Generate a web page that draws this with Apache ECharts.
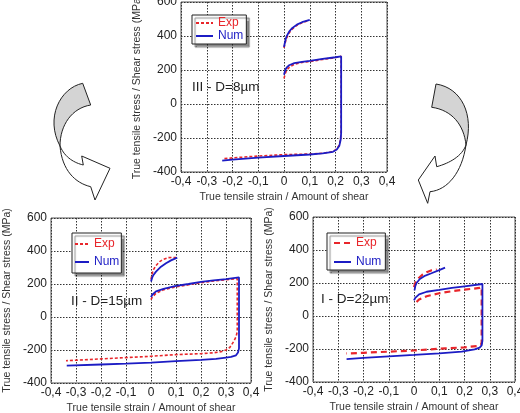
<!DOCTYPE html>
<html><head><meta charset="utf-8">
<script src="https://cdn.jsdelivr.net/npm/echarts@6/dist/echarts.min.js"></script>
<style>html,body{margin:0;padding:0;background:#fff}#c{width:520px;height:413px}</style>
</head><body><div id="c"></div><script>
// ---- data (strain, stress MPa) ----
const exp8Tension = [[0,330],[0.005,362],[0.01,388],[0.02,418],[0.03,438],[0.05,463],[0.07,478],[0.095,490]];
const num8Tension = [[0,335],[0.005,372],[0.01,398],[0.02,426],[0.03,444],[0.05,467],[0.07,481],[0.1,495]];
const exp8Shear = [[0,150],[0.005,180],[0.01,198],[0.02,215],[0.04,234],[0.07,244],[0.1,250],[0.15,262],[0.2,273],[0.222,280],[0.222,-150],[0.22,-200],[0.215,-240],[0.205,-265],[0.19,-280],[0.15,-290],[0.1,-294],[0,-298],[-0.1,-306],[-0.2,-317],[-0.235,-322]];
const num8Shear = [[0,172],[0.005,200],[0.01,214],[0.02,228],[0.04,240],[0.07,248],[0.1,254],[0.15,265],[0.2,275],[0.222,280],[0.222,-170],[0.22,-210],[0.215,-245],[0.205,-268],[0.19,-281],[0.15,-291],[0.1,-297],[0,-306],[-0.1,-316],[-0.2,-327],[-0.24,-333]];

const exp15Tension = [[0,228],[0.005,265],[0.01,287],[0.02,312],[0.035,336],[0.05,350],[0.07,360],[0.1,361]];
const num15Tension = [[0,215],[0.005,240],[0.01,255],[0.02,275],[0.04,305],[0.06,326],[0.08,343],[0.105,360]];
const exp15Shear = [[0,105],[0.005,120],[0.01,132],[0.02,144],[0.05,165],[0.1,183],[0.15,195],[0.2,208],[0.25,218],[0.3,226],[0.345,232],[0.345,-90],[0.34,-120],[0.33,-150],[0.315,-185],[0.3,-200],[0.28,-210],[0.25,-217],[0.2,-222],[0.1,-228],[0,-238],[-0.1,-246],[-0.2,-254],[-0.34,-265]];
const num15Shear = [[0,120],[0.005,135],[0.01,145],[0.02,155],[0.05,170],[0.1,188],[0.15,200],[0.2,213],[0.25,222],[0.3,230],[0.352,240],[0.352,-190],[0.348,-215],[0.34,-232],[0.32,-242],[0.3,-246],[0.26,-254],[0.2,-260],[0.1,-268],[0,-277],[-0.1,-283],[-0.2,-288],[-0.337,-295]];

const exp22Tension = [[0,175],[0.005,200],[0.01,215],[0.02,232],[0.035,252],[0.05,265],[0.07,277],[0.09,282]];
const num22Tension = [[0.002,155],[0.005,180],[0.01,200],[0.023,224],[0.045,245],[0.069,259],[0.1,278],[0.123,293]];
const exp22Shear = [[0.01,85],[0.02,100],[0.05,120],[0.1,138],[0.15,150],[0.2,160],[0.26,170],[0.268,175],[0.268,-160],[0.265,-175],[0.25,-182],[0.2,-190],[0.123,-196],[0,-209],[-0.1,-216],[-0.2,-223],[-0.268,-227]];
const num22Shear = [[0,95],[0.005,110],[0.02,131],[0.05,147],[0.1,158],[0.15,170],[0.2,180],[0.271,194],[0.271,-150],[0.268,-178],[0.26,-192],[0.24,-202],[0.189,-216],[0.1,-226],[0,-236],[-0.1,-245],[-0.2,-254],[-0.267,-261]];

const xTicks = [-0.4,-0.3,-0.2,-0.1,0,0.1,0.2,0.3,0.4];
const yTicks = [-400,-200,0,200,400,600];
const panelLabels = ['III - D=8\u00b5m','II - D=15\u00b5m','I - D=22\u00b5m'];
const xTitle = 'True tensile strain / Amount of shear';
const yTitle = 'True tensile stress / Shear stress (MPa)';

// ---- styling ----
const RED = '#e8262b', BLUE = '#1c1cc4', FONT = 'Liberation Sans, Arial, sans-serif';
const grids = [
  {left:181, top:2, width:206, height:170},
  {left:51, top:218, width:200, height:165},
  {left:313, top:217, width:202, height:165}
];
const fmtX = v => { const r = Math.round(v*10)/10; return r === 0 ? '0' : r.toFixed(1).replace('.', ','); };

const xAxes = grids.map((g,i)=>({
  type:'value', gridIndex:i, min:xTicks[0], max:xTicks[xTicks.length-1], interval:0.1,
  name:xTitle, nameLocation:'middle', nameGap:20,
  nameTextStyle:{fontSize:10.5, color:'#333', fontFamily:FONT},
  axisLine:{show:false}, axisTick:{show:false},
  axisLabel:{formatter:fmtX, fontSize:12, color:'#222', fontFamily:FONT, margin:4, showMinLabel:true, showMaxLabel:true, hideOverlap:false},
  splitLine:{show:true, lineStyle:{type:[1.5,1.5], color:'#333', width:1}}
}));
const yAxes = grids.map((g,i)=>({
  type:'value', gridIndex:i, min:yTicks[0], max:yTicks[yTicks.length-1], interval:200,
  name:yTitle, nameLocation:'middle', nameGap:38,
  nameTextStyle:{fontSize:10.5, color:'#333', fontFamily:FONT},
  axisLine:{show:false}, axisTick:{show:false},
  axisLabel:{fontSize:12, color:'#222', fontFamily:FONT, margin:4, showMinLabel:true, showMaxLabel:true},
  splitLine:{show:true, lineStyle:{type:[1.5,1.5], color:'#333', width:1}}
}));

function mk(gi, name, color, dash, width, data, z){
  return {type:'line', name, xAxisIndex:gi, yAxisIndex:gi, data, symbol:'none', smooth:false,
    lineStyle:{color, width, type:dash}, itemStyle:{color}, z, animation:false};
}
const series = [
  mk(0,'Exp8',RED,[3,2],1.6,exp8Tension,2), mk(0,'Exp8',RED,[3,2],1.6,exp8Shear,2),
  mk(0,'Num8',BLUE,'solid',1.8,num8Tension,3), mk(0,'Num8',BLUE,'solid',1.8,num8Shear,3),
  mk(1,'Exp15',RED,[3,2],1.6,exp15Tension,2), mk(1,'Exp15',RED,[3,2],1.6,exp15Shear,2),
  mk(1,'Num15',BLUE,'solid',1.8,num15Tension,3), mk(1,'Num15',BLUE,'solid',1.8,num15Shear,3),
  mk(2,'Exp22',RED,[6,4],2.2,exp22Tension,2), mk(2,'Exp22',RED,[6,4],2.2,exp22Shear,2),
  mk(2,'Num22',BLUE,'solid',1.8,num22Tension,3), mk(2,'Num22',BLUE,'solid',1.8,num22Shear,3)
];

function legend(suffix, left, top, pad, itemWidth, gap){
  return {
    data:[{name:'Exp'+suffix, textStyle:{color:RED}}, {name:'Num'+suffix, textStyle:{color:BLUE}}],
    formatter: n => n.replace(/\d+$/, ''),
    orient:'vertical', left, top, padding:pad, itemGap:gap, itemWidth, itemHeight:12,
    itemStyle:{opacity:0},
    textStyle:{fontSize:12, fontFamily:FONT}, backgroundColor:'#fff', borderColor:'#222', borderWidth:1,
    shadowColor:'rgba(0,0,0,0.45)', shadowBlur:1, shadowOffsetX:3, shadowOffsetY:3,
    selectedMode:false
  };
}

// decorative curved arrows (sampled bezier outlines)
function bez(p0,p1,p2,p3,n){
  const out=[];
  for(let i=1;i<=n;i++){const t=i/n,u=1-t;
    out.push([u*u*u*p0[0]+3*u*u*t*p1[0]+3*u*t*t*p2[0]+t*t*t*p3[0], u*u*u*p0[1]+3*u*u*t*p1[1]+3*u*t*t*p2[1]+t*t*t*p3[1]]);}
  return out;
}
function poly(start, segs){
  let pts=[start], cur=start;
  segs.forEach(s=>{ if(s.length===3){pts=pts.concat(bez(cur,s[0],s[1],s[2],16)); cur=s[2];} else {pts.push(s[0]); cur=s[0];} });
  return pts;
}
const leftWhite = poly([60,146],[[[65,158],[75,163],[83.3,165]],[[81.7,156]],[[110,168.3]],[[95,200]],[[90.7,186.7]],[[75,183],[62,170],[60,146]]]);
const leftGrey = poly([82.7,83.3],[[[60,88],[45,118],[60,146]],[[60,125],[72,108],[90.7,105]]]);
const rightWhite = poly([466,145],[[[462,156],[450,163],[436.7,166.7]],[[435,156]],[[418.3,180]],[[427.7,203.3]],[[430,191.7]],[[448,190],[462,172],[466,145]]]);
const rightGrey = poly([436,84],[[[462,88],[474,115],[466,145]],[[464,125],[452,110],[431.7,107.3]]]);

const labelPos = [[192,87],[71,301],[321,299]];
const graphic = panelLabels.map((t,i)=>({type:'text', x:labelPos[i][0], y:labelPos[i][1],
  style:{text:t, fontSize:13.5, fontFamily:FONT, fill:'#222', verticalAlign:'middle', align:'left'}, z:10}));
[[leftWhite,'#fff'],[leftGrey,'#d4d4d4'],[rightWhite,'#fff'],[rightGrey,'#d4d4d4']].forEach((a,i)=>{
  graphic.push({type:'polygon', shape:{points:a[0]}, style:{fill:a[1], stroke:'#222', lineWidth:1}, z:5+i});
});

const chart = echarts.init(document.getElementById('c'), null, {renderer:'canvas'});
chart.setOption({
  animation:false,
  backgroundColor:'#fff',
  grid: grids.map(g=>Object.assign({show:true, borderColor:'#555', borderWidth:1, backgroundColor:'transparent', containLabel:false, outerBoundsMode:'none'}, g)),
  xAxis:xAxes, yAxis:yAxes, series,
  legend:[legend('8',192,15,[2,3,2,3],17,1), legend('15',72,233,[5,2,5,2],14,6), legend('22',327,233,[4,4,2,6],17,7)],
  graphic
});
</script></body></html>
